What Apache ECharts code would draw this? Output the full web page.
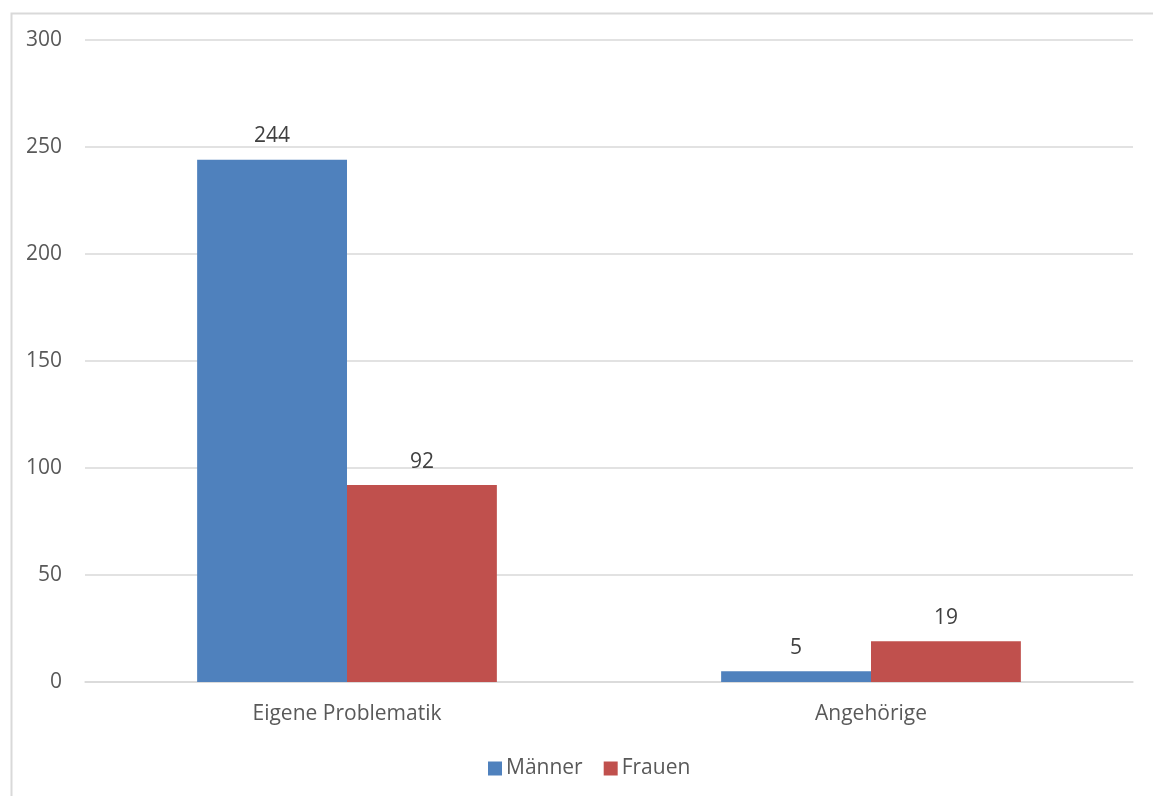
<!DOCTYPE html>
<html>
<head>
<meta charset="utf-8">
<script src="https://cdn.jsdelivr.net/npm/echarts@6/dist/echarts.min.js"></script>
<style>
  html, body { margin: 0; padding: 0; background: #fff; }
  #chart { width: 1153px; height: 796px; }
</style>
</head>
<body>
<div id="chart"></div>
<script>
var categories = ['Eigene Problematik', 'Angehörige'];
var maenner = [244, 5];
var frauen = [92, 19];
var yTicks = { min: 0, max: 300, interval: 50 };

var font = '"Open Sans", "Liberation Sans", sans-serif';
var textColor = '#595959';

var chart = echarts.init(document.getElementById('chart'));

chart.setOption({
  animation: false,
  textStyle: { fontFamily: font },
  graphic: [{
    type: 'rect',
    left: 9, top: 11,
    shape: { width: 1170, height: 820 },
    style: { fill: 'none', stroke: '#d9d9d9', lineWidth: 2 },
    silent: true
  }],
  legend: {
    bottom: 12,
    left: 483,
    itemWidth: 14,
    itemHeight: 14,
    itemGap: 21,
    icon: 'rect',
    textStyle: { fontSize: 21, color: textColor, fontFamily: font, padding: [0, 0, 0, -1] },
    data: ['Männer', 'Frauen']
  },
  grid: { left: 85, right: 20, top: 40, bottom: 114, containLabel: false },
  xAxis: {
    type: 'category',
    data: categories,
    axisLine: { show: true, lineStyle: { color: '#d9d9d9', width: 1.5 } },
    axisTick: { show: false },
    axisLabel: { fontSize: 21, color: textColor, margin: 22, fontFamily: font }
  },
  yAxis: {
    type: 'value',
    min: yTicks.min,
    max: yTicks.max,
    interval: yTicks.interval,
    axisLine: { show: false },
    axisTick: { show: false },
    axisLabel: { fontSize: 21, color: textColor, margin: 23, fontFamily: font },
    splitLine: { lineStyle: { color: '#d9d9d9', width: 1.5 } }
  },
  series: [{
    name: 'Männer',
    type: 'bar',
    data: maenner,
    barWidth: '28.6%',
    barGap: '0%',
    itemStyle: { color: '#4F81BD' },
    label: { show: true, position: 'top', distance: 13, fontSize: 21, color: '#404040', fontFamily: font }
  }, {
    name: 'Frauen',
    type: 'bar',
    data: frauen,
    barWidth: '28.6%',
    barGap: '0%',
    itemStyle: { color: '#C0504D' },
    label: { show: true, position: 'top', distance: 13, fontSize: 21, color: '#404040', fontFamily: font }
  }]
});
</script>
</body>
</html>
